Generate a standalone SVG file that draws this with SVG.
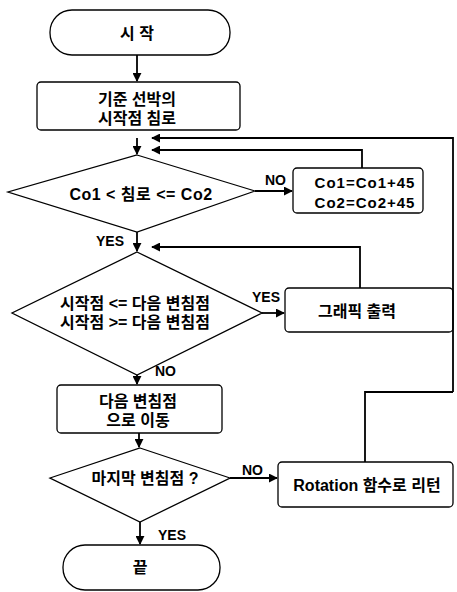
<svg xmlns="http://www.w3.org/2000/svg" width="457" height="592" viewBox="0 0 457 592">
<style>
.s{fill:#fff;stroke:#000;stroke-width:1.3}
.t{font-family:"Liberation Sans","Noto Sans CJK KR",sans-serif;font-weight:bold;font-size:16px;fill:#000;text-anchor:middle;dominant-baseline:central}
.w{letter-spacing:1px;font-size:15px}
.h{letter-spacing:0.5px}
.l{font-family:"Liberation Sans","Noto Sans CJK KR",sans-serif;font-weight:bold;font-size:14px;fill:#000;dominant-baseline:central}
.c{fill:none;stroke:#000;stroke-width:1.8}
</style>
<defs>
<marker id="a" viewBox="0 0 10 10" refX="9" refY="5" markerWidth="5" markerHeight="5" orient="auto"><path d="M0,0L10,5L0,10z" fill="#000"/></marker>
</defs>
<rect width="457" height="592" fill="#fff"/>
<g id="start"><rect class="s" x="50" y="10" width="180" height="45" rx="22"/><text class="t" x="137" y="33">시 작</text></g>
<g id="init"><rect class="s" x="37" y="82" width="203" height="48" rx="4"/><text class="t" x="137" y="99">기준 선박의</text><text class="t" x="137" y="118">시작점 침로</text></g>
<g id="d1"><polygon class="s" points="137,155 255,191 137,232 8,192"/><text class="t h" x="141" y="194">Co1 &lt; 침로 &lt;= Co2</text></g>
<g id="inc"><rect class="s" x="293" y="168" width="130" height="45" rx="4"/><text class="t w" x="365" y="182">Co1=Co1+45</text><text class="t w" x="365" y="202">Co2=Co2+45</text></g>
<g id="d2"><polygon class="s" points="137,252 262,313 137,375 12,313"/><text class="t" x="135" y="303">시작점 &lt;= 다음 변침점</text><text class="t" x="135" y="322">시작점 &gt;= 다음 변침점</text></g>
<g id="out"><rect class="s" x="285" y="288" width="168" height="44" rx="4"/><text class="t" x="357" y="311">그래픽 출력</text></g>
<g id="move"><rect class="s" x="57" y="385" width="165" height="48" rx="4"/><text class="t" x="138" y="401">다음 변침점</text><text class="t" x="138" y="420">으로 이동</text></g>
<g id="d3"><polygon class="s" points="140,448 230,478 140,522 50,478"/><text class="t" x="145" y="478">마지막 변침점 ?</text></g>
<g id="rot"><rect class="s" x="278" y="462" width="175" height="45" rx="4"/><text class="t" x="367" y="485">Rotation 함수로 리턴</text></g>
<g id="end"><rect class="s" x="63" y="545" width="157" height="45" rx="22"/><text class="t" x="140" y="567">끝</text></g>
<g id="connectors">
<path class="c" d="M137,55V81" marker-end="url(#a)"/>
<path class="c" d="M137,138V154" marker-end="url(#a)"/>
<path class="c" d="M453,392V138H152" marker-end="url(#a)"/>
<path class="c" d="M365,462V392H453"/>
<path class="c" d="M362,168V150H152" marker-end="url(#a)"/>
<path class="c" d="M255,191H292" marker-end="url(#a)"/>
<path class="c" d="M137,232V251" marker-end="url(#a)"/>
<path class="c" d="M360,288V247H152" marker-end="url(#a)"/>
<path class="c" d="M262,313H284" marker-end="url(#a)"/>
<path class="c" d="M137,375V384" marker-end="url(#a)"/>
<path class="c" d="M139,433V447" marker-end="url(#a)"/>
<path class="c" d="M230,478H277" marker-end="url(#a)"/>
<path class="c" d="M140,522V544" marker-end="url(#a)"/>
</g>
<g id="labels">
<text class="l" x="265" y="180">NO</text>
<text class="l" x="96" y="241">YES</text>
<text class="l" x="252" y="297">YES</text>
<text class="l" x="155" y="371">NO</text>
<text class="l" x="242" y="470">NO</text>
<text class="l" x="158" y="535">YES</text>
</g>
</svg>
